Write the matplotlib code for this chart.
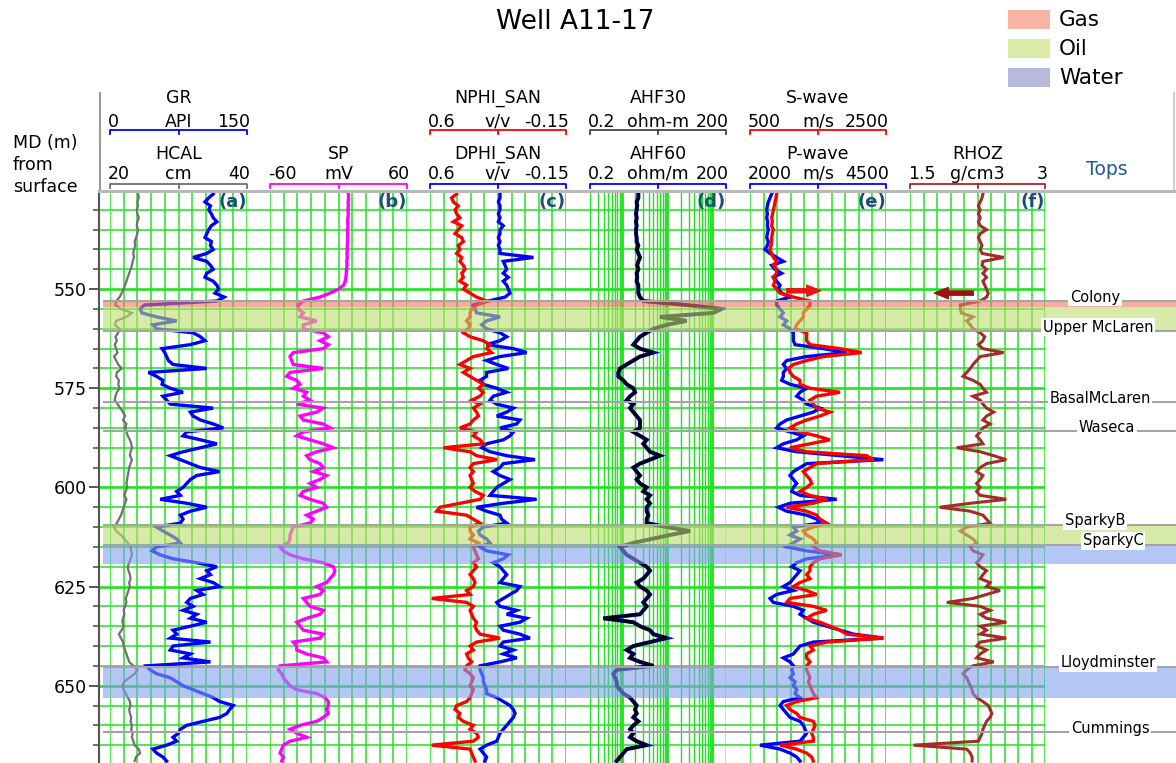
"""
Well A11-17 log display: six curve tracks, fluid zones and formation tops.
"""

import numpy as np
import matplotlib.pyplot as plt
from matplotlib.patches import Rectangle
from matplotlib.ticker import MultipleLocator


depth = np.arange(526, 670, 1.0)          # MD (m), 1 m sampling

gr = np.array([  # API
    113, 108, 104, 110, 108, 111, 113, 117, 111, 108, 106, 104,
    111, 110, 113, 106, 91, 106, 110, 113, 106, 104, 113, 117,
    119, 115, 125, 117, 38, 33, 35, 51, 73, 47, 51, 91,
    99, 104, 88, 57, 60, 62, 64, 69, 106, 42, 51, 58,
    57, 66, 80, 58, 62, 66, 113, 88, 91, 99, 113, 124,
    84, 80, 99, 117, 99, 80, 66, 77, 88, 99, 120, 95,
    88, 84, 80, 73, 77, 55, 84, 106, 88, 77, 80, 77,
    51, 58, 66, 73, 77, 51, 46, 55, 69, 95, 117, 106,
    110, 99, 113, 120, 95, 102, 88, 84, 91, 80, 95, 88,
    106, 88, 69, 73, 66, 110, 69, 66, 88, 80, 110, 40,
    44, 51, 66, 73, 80, 91, 102, 113, 120, 135, 131, 128,
    120, 102, 84, 77, 75, 69, 73, 62, 47, 51, 58, 62])

hcal = np.array([  # cm
    24.1, 24.2, 24.0, 24.1, 23.9, 24.0, 24.2, 24.0, 23.9, 24.1, 24.0, 23.8,
    23.6, 23.7, 23.5, 23.4, 23.5, 23.3, 23.2, 23.0, 22.8, 22.6, 22.4, 22.2,
    22.0, 21.7, 21.4, 20.9, 20.8, 21.6, 23.2, 22.4, 20.9, 20.7, 21.4, 21.2,
    20.8, 21.0, 20.7, 20.9, 21.1, 20.6, 20.9, 21.2, 21.7, 21.0, 20.9, 21.3,
    21.2, 21.4, 21.0, 20.8, 20.7, 21.1, 21.5, 21.9, 22.2, 21.9, 22.4, 22.2,
    22.4, 22.6, 22.9, 23.1, 23.2, 23.0, 22.9, 23.2, 23.0, 22.8, 22.7, 22.6,
    22.5, 22.4, 22.5, 22.3, 22.1, 22.4, 22.2, 22.0, 21.8, 21.6, 21.3, 21.0,
    20.6, 20.9, 21.6, 22.1, 22.6, 23.0, 23.1, 23.2, 23.0, 22.8, 22.6, 22.7,
    22.9, 23.0, 22.8, 22.9, 22.7, 22.5, 22.3, 22.4, 22.2, 22.0, 22.1, 21.9,
    21.8, 22.0, 21.7, 21.3, 21.6, 21.9, 22.0, 22.2, 22.4, 22.6, 22.8, 23.4,
    24.0, 23.6, 22.8, 22.1, 21.8, 22.0, 22.3, 22.6, 22.9, 23.0, 22.8, 22.9,
    23.1, 23.0, 23.2, 23.1, 23.3, 23.2, 23.4, 23.6, 24.2, 24.4, 23.8, 23.6])

sp = np.array([  # mV
    8.6, 8.8, 8.4, 8.6, 8.3, 8.6, 8.2, 8.0, 8.3, 7.9, 8.1, 7.8,
    7.9, 7.6, 7.8, 7.4, 7.7, 7.2, 7.5, 7.0, 6.8, 6.5, 5.9, 4.5,
    -0.1, -7.4, -16.2, -30.8, -35.2, -35.2, -30.8, -33.7, -19.1, -30.8, -30.8, -13.3,
    -8.9, -16.2, -8.9, -13.3, -39.6, -42.5, -41.0, -39.6, -13.3, -42.5, -45.4, -36.6,
    -33.7, -39.6, -27.9, -30.8, -25.0, -36.6, -13.3, -19.1, -33.7, -30.8, -13.3, -7.4,
    -30.8, -36.6, -25.0, -13.3, -4.5, -19.1, -27.9, -25.0, -16.2, -13.3, -22.0, -10.4,
    -16.2, -25.0, -19.1, -30.8, -33.7, -25.0, -13.3, -10.4, -19.1, -27.9, -22.0, -25.0,
    -39.6, -41.0, -42.5, -42.5, -43.9, -51.2, -48.3, -42.5, -30.8, -13.3, -4.5, -3.1,
    -4.5, -7.4, -10.4, -19.1, -13.3, -16.2, -30.8, -27.9, -25.0, -13.3, -16.2, -27.9,
    -36.6, -33.7, -30.8, -13.3, -16.2, -39.6, -36.6, -36.6, -27.9, -13.3, -10.4, -51.2,
    -52.7, -49.8, -48.3, -45.4, -42.5, -36.6, -19.1, -11.8, -8.9, -8.9, -10.4, -8.9,
    -13.3, -19.1, -33.7, -42.5, -36.6, -27.9, -42.5, -48.3, -49.8, -51.2, -48.3, -49.8])

nphi = np.array([  # v/v
    .453, .481, .471, .444, .462, .453, .435, .471, .425, .444, .462, .425,
    .416, .444, .435, .453, .425, .435, .416, .407, .425, .416, .435, .398,
    .416, .379, .343, .288, .343, .370, .379, .379, .398, .379, .389, .416,
    .379, .306, .269, .288, .260, .361, .398, .435, .379, .416, .379, .343,
    .306, .333, .306, .324, .370, .324, .361, .343, .333, .361, .379, .435,
    .343, .361, .324, .306, .526, .379, .343, .232, .361, .379, .361, .379,
    .370, .361, .379, .352, .306, .324, .435, .545, .563, .398, .361, .324,
    .379, .379, .361, .379, .333, .361, .352, .343, .333, .361, .343, .361,
    .379, .361, .352, .361, .398, .379, .591, .398, .361, .379, .370, .361,
    .343, .352, .343, .324, .214, .343, .379, .361, .398, .389, .370, .398,
    .407, .379, .361, .370, .379, .361, .370, .379, .398, .453, .462, .435,
    .444, .416, .361, .379, .343, .333, .361, .591, .379, .370, .361, .352])

dphi = np.array([  # v/v
    .214, .214, .223, .214, .214, .223, .214, .223, .196, .214, .214, .223,
    .214, .223, .214, .214, .030, .196, .186, .177, .196, .168, .196, .177,
    .168, .159, .186, .278, .361, .352, .343, .214, .288, .315, .288, .214,
    .177, .214, .288, .140, .067, .214, .288, .232, .168, .288, .288, .324,
    .306, .232, .177, .251, .269, .232, .140, .177, .232, .104, .122, .214,
    .140, .159, .196, .288, .315, .269, .177, .021, .196, .214, .251, .214,
    .159, .196, .232, .251, .269, .012, .196, .343, .288, .214, .205, .177,
    .306, .333, .324, .288, .269, .324, .288, .168, .196, .251, .214, .196,
    .177, .196, .214, .104, .122, .159, .196, .232, .214, .122, .177, .067,
    .104, .214, .196, .104, .049, .196, .214, .140, .196, .122, .214, .324,
    .324, .315, .306, .306, .297, .288, .288, .232, .196, .159, .140, .131,
    .140, .159, .177, .196, .214, .223, .232, .288, .324, .306, .288, .297])

ahf30 = np.array([  # ohm-m
    2.33, 2.33, 2.14, 2.20, 2.14, 2.07, 2.14, 2.07, 2.14, 2.07, 2.07, 2.14,
    2.14, 2.33, 2.14, 2.33, 2.53, 2.33, 2.20, 2.33, 2.14, 2.20, 2.14, 2.33,
    2.33, 2.33, 2.53, 3.0, 27.1, 160, 105, 7.0, 27.1, 9.82, 4.99, 3.56,
    2.53, 2.14, 1.81, 2.53, 4.99, 2.53, 1.81, 1.29, 0.918, 0.843, 0.843, 1.09,
    1.29, 1.81, 1.97, 1.53, 1.29, 1.81, 1.53, 1.81, 2.14, 2.53, 2.53, 2.53,
    1.81, 2.53, 3.56, 3.0, 3.56, 4.21, 7.0, 4.21, 2.53, 1.81, 2.14, 2.53,
    2.14, 2.53, 3.56, 3.0, 4.21, 3.56, 4.21, 3.56, 3.56, 3.87, 3.56, 3.56,
    9.82, 32.1, 11.6, 4.6, 1.8, 0.918, 1.09, 1.29, 1.81, 2.53, 3.56, 4.21,
    3.56, 3.0, 2.14, 2.53, 3.56, 4.21, 3.56, 3.0, 3.56, 3.0, 2.53, 0.394,
    1.81, 2.53, 4.21, 4.99, 9.82, 4.21, 1.81, 1.29, 1.81, 1.53, 2.53, 4.99,
    0.775, 0.654, 0.712, 0.775, 0.775, 0.918, 1.09, 1.53, 1.81, 2.14, 1.97, 2.14,
    1.81, 2.33, 1.81, 1.53, 1.81, 1.53, 2.14, 3.56, 1.29, 1.09, 0.918, 0.775])

ahf60 = ahf30  # the two resistivity curves overlie each other at this scale

swave = np.array([  # m/s
    892, 882, 868, 858, 843, 833, 819, 828, 819, 843, 828, 819,
    819, 809, 794, 819, 843, 892, 843, 892, 892, 843, 868, 843,
    892, 941, 1137, 1382, 1382, 1333, 1284, 1284, 1235, 1186, 1162, 1333,
    1333, 1333, 1382, 1823, 2142, 1578, 1333, 1137, 1064, 1088, 1137, 1235,
    1235, 1382, 1823, 1480, 1382, 1431, 1480, 1676, 1529, 1333, 1186, 1088,
    1235, 1480, 1676, 1382, 1088, 1333, 2215, 2313, 1480, 1382, 1284, 1333,
    1382, 1407, 1333, 1235, 1382, 1627, 1431, 1039, 1333, 1480, 1529, 1627,
    1431, 1284, 1333, 1431, 1480, 1431, 1529, 1848, 1529, 1431, 1382, 1382,
    1333, 1382, 1235, 1137, 1333, 1480, 1088, 1039, 1431, 1627, 1431, 1333,
    1529, 1676, 1823, 1921, 2460, 1627, 1382, 1431, 1333, 1333, 1382, 1333,
    1333, 1358, 1382, 1358, 1382, 1407, 1431, 1480, 1186, 1039, 1088, 1186,
    1235, 1431, 1456, 1431, 1407, 1431, 1431, 941, 1186, 1333, 1407, 1431])

pwave = np.array([  # m/s
    2398, 2368, 2337, 2319, 2307, 2319, 2307, 2325, 2319, 2337, 2319, 2307,
    2337, 2319, 2276, 2368, 2490, 2613, 2398, 2460, 2582, 2429, 2490, 2552,
    2521, 2582, 2736, 2490, 2490, 2552, 2613, 2552, 2674, 2613, 2736, 2797,
    2797, 2797, 2828, 3349, 3778, 3042, 2674, 2613, 2674, 2613, 2613, 2582,
    2736, 3042, 2920, 2858, 2981, 3042, 3287, 3165, 2920, 2674, 2552, 2490,
    2736, 2981, 2858, 2613, 2490, 2858, 3655, 4452, 3042, 2920, 2797, 2736,
    2797, 2858, 2797, 2766, 2920, 3594, 2736, 2521, 2674, 3042, 3226, 3287,
    2797, 2858, 2736, 2920, 2797, 2674, 3042, 3655, 3042, 2858, 2766, 2920,
    2858, 2797, 2736, 2613, 2797, 2490, 2368, 2429, 2797, 2981, 2920, 3042,
    3165, 3410, 3655, 3900, 4452, 3165, 2920, 2858, 2797, 2613, 2736, 2797,
    2766, 2797, 2736, 2828, 2797, 2858, 2828, 2920, 2613, 2552, 2613, 2674,
    2736, 2920, 2981, 3011, 3042, 2981, 2920, 2184, 2552, 2736, 2858, 2920])

rhoz = np.array([  # g/cm3
    2.31, 2.30, 2.28, 2.26, 2.28, 2.26, 2.28, 2.26, 2.28, 2.35, 2.28, 2.26,
    2.28, 2.30, 2.28, 2.30, 2.54, 2.31, 2.30, 2.35, 2.31, 2.35, 2.31, 2.33,
    2.35, 2.37, 2.35, 2.28, 2.06, 2.06, 2.07, 2.20, 2.13, 2.17, 2.20, 2.28,
    2.33, 2.31, 2.26, 2.31, 2.54, 2.28, 2.24, 2.20, 2.17, 2.13, 2.09, 2.20,
    2.28, 2.31, 2.35, 2.20, 2.28, 2.31, 2.35, 2.43, 2.35, 2.31, 2.39, 2.31,
    2.28, 2.24, 2.28, 2.31, 2.02, 2.28, 2.43, 2.57, 2.35, 2.28, 2.24, 2.31,
    2.28, 2.24, 2.28, 2.24, 2.28, 2.57, 2.17, 1.83, 2.17, 2.31, 2.35, 2.39,
    2.13, 2.06, 2.13, 2.20, 2.24, 2.17, 2.20, 2.31, 2.28, 2.24, 2.28, 2.35,
    2.31, 2.28, 2.39, 2.35, 2.50, 2.35, 2.20, 1.91, 2.28, 2.39, 2.28, 2.35,
    2.57, 2.28, 2.35, 2.28, 2.57, 2.28, 2.24, 2.35, 2.28, 2.24, 2.43, 2.20,
    2.13, 2.09, 2.13, 2.15, 2.17, 2.19, 2.20, 2.24, 2.31, 2.37, 2.39, 2.41,
    2.39, 2.35, 2.33, 2.31, 2.30, 2.28, 2.26, 1.54, 2.13, 2.17, 2.19, 2.19])

tops_name = ["Colony", "Upper McLaren", "BasalMcLaren", "Waseca",
             "SparkyB", "SparkyC", "Lloydminster", "Cummings"]
tops_md = [553.0, 560.6, 578.5, 585.8, 609.4, 614.5, 645.2, 661.8]

zone_fluid = ["Gas", "Oil", "Oil", "Water", "Water"]
zone_top = [553.0, 554.6, 609.4, 614.5, 645.2]
zone_base = [554.6, 560.6, 614.5, 619.3, 653.0]

# track, header row, mnemonic, unit, left value, right value, colour, data, width
curves = [
    ("a", 1, "HCAL", "cm", 20, 40, "#707070", hcal, 1.6),
    ("a", 0, "GR", "API", 0, 150, "#0000ff", gr, 2.4),
    ("b", 1, "SP", "mV", -60, 60, "#ff00ff", sp, 2.4),
    ("c", 1, "DPHI_SAN", "v/v", 0.6, -0.15, "#0000ff", dphi, 2.4),
    ("c", 0, "NPHI_SAN", "v/v", 0.6, -0.15, "#ff0000", nphi, 2.4),
    ("d", 1, "AHF60", "ohm/m", 0.2, 200, "#0000ff", ahf60, 2.9),
    ("d", 0, "AHF30", "ohm-m", 0.2, 200, "#000000", ahf30, 2.2),
    ("e", 1, "P-wave", "m/s", 2000, 4500, "#0000ff", pwave, 2.4),
    ("e", 0, "S-wave", "m/s", 500, 2500, "#ff0000", swave, 2.4),
    ("f", 1, "RHOZ", "g/cm3", 1.5, 3, "#a52a2a", rhoz, 2.2),
]


# ─── layout (pixels of the 1176 x 763 canvas) ────────────────────────────────

W, H = 1176, 763
MD_TOP, MD_BASE = 525.5, 669.5
Y0, Y1 = 192, 763
TRACKS = {"a": (110, 247), "b": (270, 407), "c": (430, 566),
          "d": (590, 726), "e": (750, 886), "f": (910, 1045)}
HEADER_ROWS = [(103, 127, 130), (159, 179, 184)]   # name, scale, bracket
GRID_GREEN = "#22e022"
ZONE_FILL = {"Gas": "#ee7a61", "Oil": "#bedc6e", "Water": "#82a0ee"}
LEGEND_FILL = {"Gas": "#fab4a4", "Oil": "#d9eba6", "Water": "#b9b9dc"}
TOP_LABEL_X = [1095, 1098, 1100, 1107, 1095, 1113, 1108, 1110]

fig = plt.figure(figsize=(W / 100, H / 100), dpi=100)


def px_axes(x0, x1, y0=Y0, y1=Y1):
    ax = fig.add_axes([x0 / W, 1 - y1 / H, (x1 - x0) / W, (y1 - y0) / H])
    ax.patch.set_visible(False)
    return ax


# header canvas in pixel units, drawn above the tracks
hdr = fig.add_axes([0, 0, 1, 1])
hdr.set_xlim(0, W)
hdr.set_ylim(H, 0)
hdr.axis("off")
hdr.set_zorder(10)

hdr.text(575, 29, "Well A11-17", ha="center", va="baseline", fontsize=19)
hdr.text(13, 134, "MD (m)\nfrom\nsurface", ha="left", va="top",
         fontsize=12.5, linespacing=1.3)
hdr.text(1107, 175, "Tops", ha="center", va="baseline", fontsize=13.5,
         color="#1f5a96")
hdr.plot([100, 100], [93, 192], color="#9a9a9a", lw=1.5)
hdr.plot([1174, 1174], [93, 190], color="#c4c4c4", lw=1.2)
hdr.plot([99, 1176], [190.5, 190.5], color="#b8b8b8", lw=2.2)

for i, fluid in enumerate(["Gas", "Oil", "Water"]):
    y = 10 + i * 29
    hdr.add_patch(Rectangle((1008, y), 42, 19, facecolor=LEGEND_FILL[fluid],
                            edgecolor="none"))
    hdr.text(1059, y + 10, fluid, ha="left", va="center", fontsize=15.5)

# depth axis and horizontal grid
base = px_axes(99, 1045)
base.set_ylim(MD_BASE, MD_TOP)
base.set_xlim(0, 1)
for side in ("top", "right", "bottom"):
    base.spines[side].set_visible(False)
base.spines["left"].set_color("#555555")
base.spines["left"].set_linewidth(1.5)
base.set_xticks([])
base.yaxis.set_major_locator(MultipleLocator(25))
base.yaxis.set_minor_locator(MultipleLocator(5))
base.tick_params(axis="y", which="major", length=7, width=1.4,
                 color="#555555", labelsize=12.5, pad=2)
base.tick_params(axis="y", which="minor", length=4, width=1.2, color="#555555")
for md in np.arange(530, 670, 5):
    base.axhline(md, color=GRID_GREEN, lw=1.9 if md % 25 == 0 else 1.1,
                 zorder=0)

# curve tracks
track_ax = {}
for track, row, name, unit, lo, hi, colour, values, lw in curves:
    x0, x1 = TRACKS[track]
    log = unit.startswith("ohm")
    if track not in track_ax:
        ax = px_axes(x0, x1)
        ax.set_ylim(MD_BASE, MD_TOP)
        if log:
            ax.set_xscale("log")
            ax.set_xlim(lo, hi)
            for k in range(-1, 3):
                for m in range(1, 10):
                    v = m * 10.0 ** k
                    if lo - 1e-9 <= v <= hi + 1e-9:
                        ax.axvline(v, color=GRID_GREEN,
                                   lw=2.0 if m == 1 else 1.0, zorder=0)
            ax.axvline(hi, color=GRID_GREEN, lw=1.0, zorder=0)
        else:
            ax.set_xlim(lo, hi)
            for v in np.linspace(lo, hi, 11):
                ax.axvline(v, color=GRID_GREEN, lw=1.1, zorder=0)
        ax.axis("off")
        track_ax[track] = ax
    else:
        ax = track_ax[track].twiny()
        if log:
            ax.set_xscale("log")
        ax.set_xlim(lo, hi)
        ax.set_ylim(MD_BASE, MD_TOP)
        ax.axis("off")
    ax.plot(values, depth, color=colour, lw=lw, solid_joinstyle="miter")

    # header entry: name, scale, bracket
    y_name, y_scale, y_br = HEADER_ROWS[row]
    cx = (x0 + x1) / 2
    br_colour = colour if colour != "#000000" else "#444444"
    hdr.text(cx, y_name, name, ha="center", va="baseline", fontsize=12.5)
    hdr.text(x0 - 2, y_scale, f"{lo:g}", ha="left", va="baseline", fontsize=12.5)
    hdr.text(cx, y_scale, unit, ha="center", va="baseline", fontsize=12.5)
    hdr.text(x1 + 3, y_scale, f"{hi:g}", ha="right", va="baseline", fontsize=12.5)
    hdr.plot([x0, x0, x1, x1], [y_br + 4, y_br, y_br, y_br + 4],
             color=br_colour, lw=1.3)
    hdr.plot([cx, cx], [y_br, y_br + 4], color=br_colour, lw=1.3)

for track, (x0, x1) in TRACKS.items():
    hdr.text(x1, 202, f"({track})", ha="right", va="center", fontsize=13,
             fontweight="bold", color="#1b4f7a")

# arrows marking the velocity and density response in the gas zone
arrow_style = "simple,head_length=1.0,head_width=0.8,tail_width=0.3"
track_ax["e"].annotate(
    "", xy=(0.54, 550.4), xytext=(0.25, 550.4),
    xycoords=("axes fraction", "data"), textcoords=("axes fraction", "data"),
    arrowprops=dict(arrowstyle=arrow_style, color="#ee1111", mutation_scale=10))
track_ax["f"].annotate(
    "", xy=(0.16, 551.0), xytext=(0.49, 551.0),
    xycoords=("axes fraction", "data"), textcoords=("axes fraction", "data"),
    arrowprops=dict(arrowstyle=arrow_style, color="#a01010", mutation_scale=10))

# fluid zones and formation tops across all tracks
ov = px_axes(103, 1176)
ov.set_xlim(103, 1176)
ov.set_ylim(MD_BASE, MD_TOP)
ov.axis("off")
for fluid, top, bot in zip(zone_fluid, zone_top, zone_base):
    ov.axhspan(top, bot, color=ZONE_FILL[fluid], alpha=0.6, lw=0, zorder=1)
for name, md, lx in zip(tops_name, tops_md, TOP_LABEL_X):
    ov.axhline(md, color="#a4a4a4", lw=1.5, zorder=2)
    ov.text(lx, md - 1.0, name, ha="center", va="center", fontsize=10.5,
            zorder=5, bbox=dict(facecolor="white", edgecolor="none", pad=1.2))

fig.savefig("out.png", dpi=100)
